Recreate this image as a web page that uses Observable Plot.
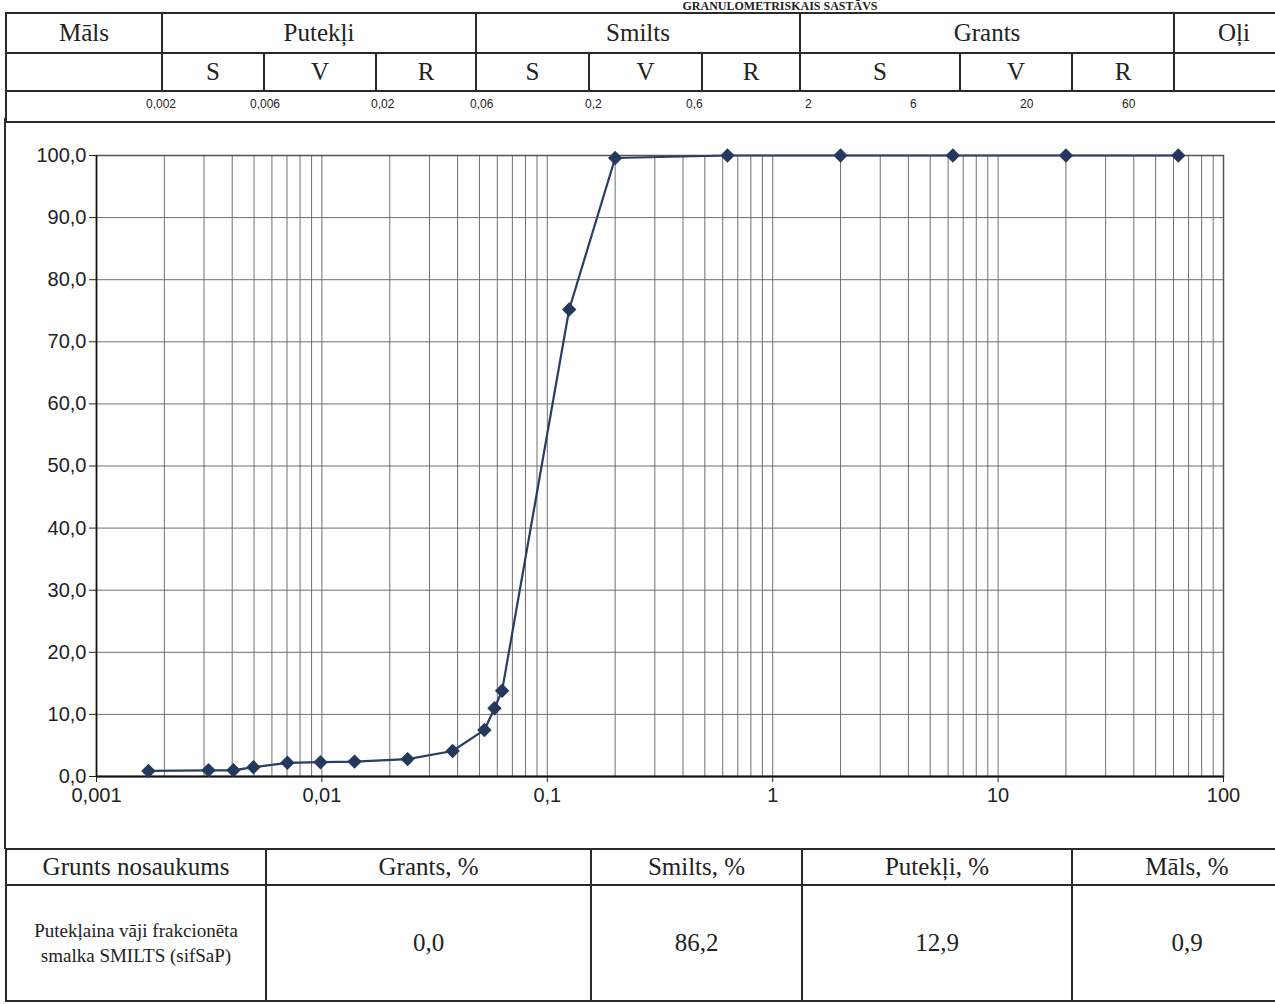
<!DOCTYPE html>
<html>
<head>
<meta charset="utf-8">
<script src="https://cdn.jsdelivr.net/npm/d3@7"></script>
<script src="https://cdn.jsdelivr.net/npm/@observablehq/plot@0.6"></script>
<style>
  html, body { margin: 0; padding: 0; background: #fff; }
  #page { position: relative; width: 1275px; height: 1004px; overflow: hidden; background: #fff; }
  .serif, .serif td { font-family: "Liberation Serif", "DejaVu Serif", "Times New Roman", serif; color: #222; }
  .sans { font-family: "Liberation Sans", Arial, sans-serif; color: #222; }
  table { border-collapse: collapse; position: absolute; table-layout: fixed; }
  td { border: 2px solid #2a2a2a; padding: 0; text-align: center; }
  #title { position: absolute; left: 560px; width: 440px; top: 0px; line-height: 12px; text-align: center; font-weight: bold; font-size: 12px; }
  #chartbox { position: absolute; left: 4px; top: 118px; width: 1300px; height: 731px; border-left: 2px solid #2a2a2a; }
  #plot { position: absolute; left: 0; top: 120px; }
  .num { position: absolute; top: 97px; font-size: 12px; }
</style>
</head>
<body>
<div id="page">
  <div id="title" class="serif">GRANULOMETRISKAIS SASTĀVS</div>
  <div id="chartbox"></div>
  <div id="header"></div>
  <div id="plot"></div>
  <div id="footer"></div>
</div>
<script>
// ---- data ----
const sizes = [0.0017, 0.00314, 0.00405, 0.00497, 0.00703, 0.00986, 0.01396, 0.0240, 0.0380, 0.0526, 0.0583, 0.063, 0.125, 0.2, 0.63, 2, 6.3, 20, 63];
const passing = [0.9, 1.0, 1.0, 1.5, 2.2, 2.3, 2.4, 2.8, 4.1, 7.5, 11.0, 13.8, 75.2, 99.6, 100, 100, 100, 100, 100];
const xTicks = [0.001, 0.01, 0.1, 1, 10, 100];
const yTicks = [0, 10, 20, 30, 40, 50, 60, 70, 80, 90, 100];

const mainGroups = ["Māls", "Putekļi", "Smilts", "Grants", "Oļi"];
const subGroups = ["", "S", "V", "R", "S", "V", "R", "S", "V", "R", ""];
const boundaryLabels = ["0,002", "0,006", "0,02", "0,06", "0,2", "0,6", "2", "6", "20", "60"];

const summaryHeaders = ["Grunts nosaukums", "Grants, %", "Smilts, %", "Putekļi, %", "Māls, %"];
const soilName = ["Putekļaina vāji frakcionēta", "smalka SMILTS (sifSaP)"];
const summaryValues = ["0,0", "86,2", "12,9", "0,9"];

// ---- header table ----
const subWidths = [156, 102, 112, 100, 113, 113, 98, 160, 112, 102, 120];
const mainSpans = [1, 3, 3, 3, 1];
const labelLeft = [146, 250, 371, 470, 585, 686, 805, 910, 1020, 1122];
let h = `<table class="serif" style="left:5px; top:12px; width:${subWidths.reduce((a,b)=>a+b,0)}px;"><colgroup>`;
subWidths.forEach(w => h += `<col style="width:${w}px">`);
h += `</colgroup><tr style="height:40px">`;
mainGroups.forEach((g, i) => h += `<td colspan="${mainSpans[i]}" style="font-size:25px">${g}</td>`);
h += `</tr><tr style="height:38px">`;
subGroups.forEach(s => h += `<td style="font-size:25px">${s}</td>`);
h += `</tr><tr style="height:31px"><td colspan="11" style="border-bottom:2px solid #2a2a2a"></td></tr></table>`;
boundaryLabels.forEach((l, i) => h += `<div class="num sans" style="left:${labelLeft[i]}px">${l}</div>`);
document.getElementById("header").innerHTML = h;

// ---- footer table ----
const footWidths = [260, 325, 211, 270, 230];
let f = `<table class="serif" style="left:5px; top:848px; width:${footWidths.reduce((a,b)=>a+b,0)}px;"><colgroup>`;
footWidths.forEach(w => f += `<col style="width:${w}px">`);
f += `</colgroup><tr style="height:36px">`;
summaryHeaders.forEach(s => f += `<td style="font-size:25px">${s}</td>`);
f += `</tr><tr style="height:116px"><td style="font-size:19px; line-height:25px">${soilName.join("<br>")}</td>`;
summaryValues.forEach(v => f += `<td style="font-size:25px">${v}</td>`);
f += `</tr></table>`;
document.getElementById("footer").innerHTML = f;

// ---- chart ----
const data = sizes.map((s, i) => ({size: s, pct: passing[i]}));
const gridX = d3.scaleLog().domain([0.001, 100]).ticks();
const fmtX = d => String(d).replace(".", ",");
const fmtY = d => d.toFixed(1).replace(".", ",");

const chart = Plot.plot({
  width: 1275,
  height: 710,
  marginLeft: 96,
  marginRight: 52,
  marginTop: 35,
  marginBottom: 54,
  style: {fontFamily: "'Liberation Sans', Arial, sans-serif", fontSize: "20px", color: "#222", background: "transparent"},
  x: {type: "log", domain: [0.001, 100], label: null},
  y: {domain: [0, 100], label: null},
  marks: [
    Plot.ruleX(gridX, {stroke: "#6f6f6f", strokeWidth: 1}),
    Plot.ruleY(yTicks, {stroke: "#6f6f6f", strokeWidth: 1}),
    Plot.frame({stroke: "#555", strokeWidth: 1.5}),
    Plot.ruleY([0], {stroke: "#111", strokeWidth: 2}),
    Plot.ruleX([0.001], {stroke: "#111", strokeWidth: 1.5}),
    Plot.line(data, {x: "size", y: "pct", stroke: "#2a3d63", strokeWidth: 2.2}),
    Plot.dot(data, {x: "size", y: "pct", symbol: "diamond2", fill: "#24385e", r: 6.5}),
    Plot.axisX({ticks: xTicks, tickFormat: fmtX, tickSize: 6, tickPadding: 5, fontSize: 20}),
    Plot.axisY({ticks: yTicks, tickFormat: fmtY, tickSize: 7, tickPadding: 3, fontSize: 20})
  ]
});
document.getElementById("plot").appendChild(chart);
</script>
</body>
</html>
